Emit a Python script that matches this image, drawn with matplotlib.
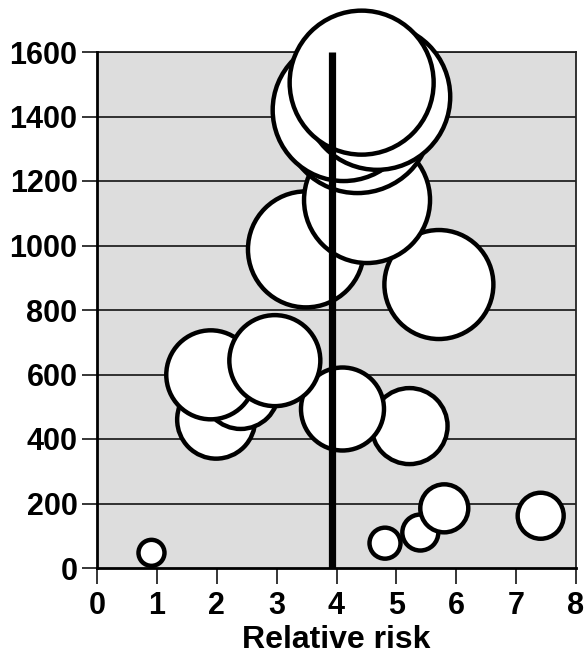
import matplotlib
matplotlib.use("Agg")
import matplotlib.pyplot as plt
import numpy as np

plt.rcParams['font.family'] = ['Liberation Sans', 'DejaVu Sans']
plt.rcParams['font.weight'] = 'bold'

# Data (drawn lowest first so higher bubbles overlay lower ones)
relative_risk = [0.91, 4.81, 5.40, 7.41, 5.80, 5.22, 1.99, 4.10, 2.40, 1.90,
                 2.97, 5.71, 3.49, 4.51, 4.35, 4.12, 4.68, 4.42]
cases = [47, 77, 110, 162, 185, 440, 460, 493, 549, 599,
         643, 879, 988, 1141, 1392, 1420, 1461, 1505]
study_weight = [26, 31, 36, 46, 48, 76, 78, 83, 76, 89,
                91, 109, 116, 126, 148, 142, 146, 144]
pooled_rr = 3.93
x_ticks = [0, 1, 2, 3, 4, 5, 6, 7, 8]
y_ticks = [0, 200, 400, 600, 800, 1000, 1200, 1400, 1600]

DPI = 100
fig = plt.figure(figsize=(5.86, 6.54), dpi=DPI)
ax = fig.add_axes([97/586, 1-568/654, 479/586, 516/654])
ax.set_facecolor('#dddddd')

ax.set_xlim(0, 8)
ax.set_ylim(0, 1600)

for yv in y_ticks[1:]:
    ax.axhline(yv, color='#222222', lw=1.3, zorder=1)

sizes = [(w * 72 / DPI) ** 2 for w in study_weight]
ax.scatter(relative_risk, cases, s=sizes, facecolor='white', edgecolor='black',
           linewidths=3.2, zorder=3, clip_on=False)

ax.plot([pooled_rr, pooled_rr], [0, 1600], color='black', lw=5.2,
        solid_capstyle='butt', zorder=4, clip_on=False)

ax.set_xticks(x_ticks)
ax.set_yticks(y_ticks)
ax.set_xticklabels([str(v) for v in x_ticks], fontsize=22, fontweight='bold')
ax.set_yticklabels([str(v) for v in y_ticks], fontsize=22, fontweight='bold')
ax.tick_params(axis='y', direction='out', length=11, width=1.1, pad=3)
ax.tick_params(axis='x', direction='out', length=11.5, width=1.1, pad=5)
ax.set_xlabel('Relative risk', fontsize=23, fontweight='bold', labelpad=3)

for side in ['left', 'bottom']:
    ax.spines[side].set_linewidth(2.0)
    ax.spines[side].set_zorder(5)
for side in ['top', 'right']:
    ax.spines[side].set_linewidth(1.3)
    ax.spines[side].set_color('#222222')
    ax.spines[side].set_zorder(2)

fig.savefig('out.png', dpi=DPI)
